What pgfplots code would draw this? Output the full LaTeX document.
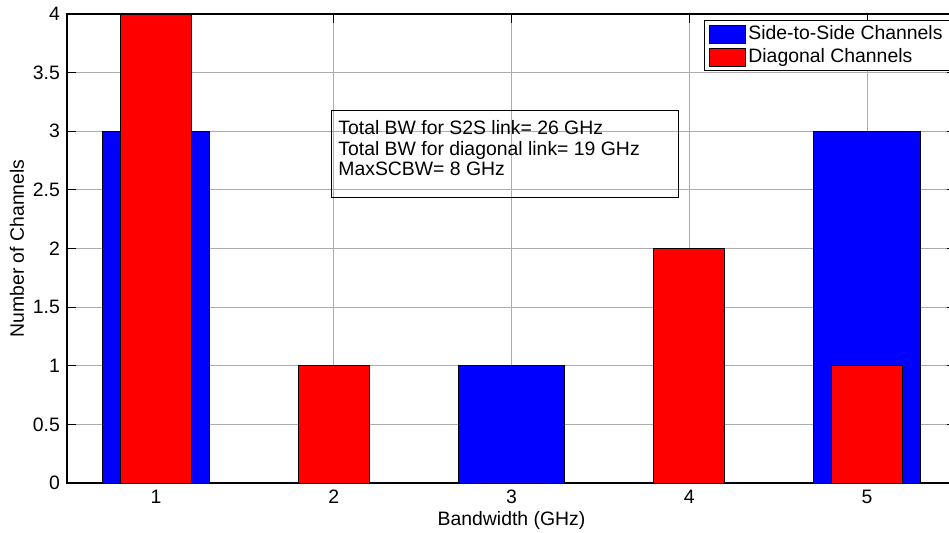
\documentclass[border=0pt]{standalone}
\usepackage{pgfplots}
\pgfplotsset{compat=1.18}
\usepackage{fontspec}
\setmainfont{Liberation Sans}
\begin{document}
\begin{tikzpicture}[font=\fontsize{9.7}{11}\selectfont]
\useasboundingbox (-33.5pt,-25pt) rectangle (441pt,241.5pt);
\clip (-33.5pt,-25pt) rectangle (441pt,241.5pt);
\begin{axis}[
  at={(0,0)}, anchor=south west,
  scale only axis, width=444.5pt, height=234.5pt,
  xmin=0.5, xmax=5.5, ymin=0, ymax=4,
  xtick={1,2,3,4,5}, ytick={0,0.5,1,1.5,2,2.5,3,3.5,4},
  /pgf/number format/assume math mode=true,
  /pgf/number format/fixed,
  tick align=inside, xtick pos=both, ytick pos=both,
  major tick length=4.5pt,
  tick style={black, line width=0.5pt},
  grid=major, grid style={gray!65, line width=0.45pt},
  axis line style={line width=0.6pt},
  xlabel={Bandwidth (GHz)}, ylabel={Number of Channels},
  xlabel style={at={(axis description cs:0.5,-0.0789)}, anchor=center},
  ylabel style={at={(axis description cs:-0.0562,0.5)}, anchor=center},
  legend cell align=left,
  legend image code/.code={\draw[#1] (0pt,-4.5pt) rectangle (18pt,4.5pt);},
  legend style={at={(axis description cs:0.9933,0.987)}, anchor=north east,
    draw=black, line width=0.5pt, inner xsep=2pt, inner ysep=1pt,
    nodes={inner sep=1.5pt}, row sep=0pt},
]
\addplot[ybar, bar width=0.6, bar shift=0pt, fill=blue, draw=black, line width=0.4pt]
  coordinates {(1,3) (2,0) (3,1) (4,0) (5,3)};
\addlegendentry{Side-to-Side Channels}
\addplot[ybar, bar width=0.4, bar shift=0pt, fill=red, draw=black, line width=0.4pt]
  coordinates {(1,4) (2,1) (3,0) (4,2) (5,1)};
\addlegendentry{Diagonal Channels}
\draw[black, line width=0.5pt] (axis cs:1.985,3.181) rectangle (axis cs:3.942,2.431);
\node[anchor=base west, inner sep=0pt] at (axis cs:2.024,2.972) {Total BW for S2S link= 26 GHz};
\node[anchor=base west, inner sep=0pt] at (axis cs:2.024,2.797) {Total BW for diagonal link= 19 GHz};
\node[anchor=base west, inner sep=0pt] at (axis cs:2.024,2.622) {MaxSCBW= 8 GHz};
\end{axis}
\end{tikzpicture}
\end{document}
